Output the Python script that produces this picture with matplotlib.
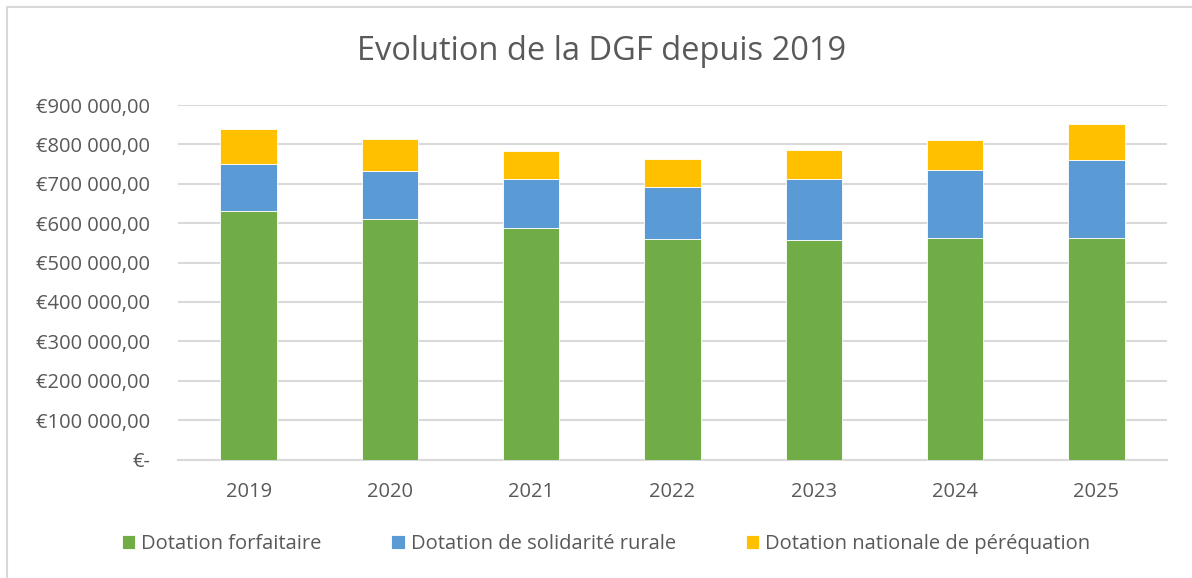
import matplotlib.pyplot as plt
from matplotlib.patches import Rectangle
from matplotlib.ticker import FuncFormatter

# Data
years = ['2019', '2020', '2021', '2022', '2023', '2024', '2025']
forfaitaire = [630000, 610000, 587000, 561000, 557000, 563000, 563000]
solidarite = [121000, 123000, 126000, 132000, 154000, 171000, 198000]
perequation = [87000, 80000, 71000, 69000, 75000, 77000, 90000]

series_names = ['Dotation forfaitaire', 'Dotation de solidarité rurale',
                'Dotation nationale de péréquation']
colors = ['#70AD47', '#5B9BD5', '#FFC000']

plt.rcParams['font.family'] = ['Open Sans', 'DejaVu Sans']
txt = '#595959'

W, H = 1192, 578
fig = plt.figure(figsize=(W / 100, H / 100), dpi=100)

# Outer chart frame
fig.patches.append(Rectangle((7 / W, -0.01), 1.1, 1 - 6.5 / H + 0.01,
                             transform=fig.transFigure, fill=False,
                             edgecolor='#d9d9d9', linewidth=1.5))

ax = fig.add_axes([178 / W, (H - 459.5) / H, (1167 - 178) / W, (459.5 - 105) / H])

x = range(len(years))
bottom2 = [a + b for a, b in zip(forfaitaire, solidarite)]
ax.bar(x, forfaitaire, 0.4, color=colors[0], edgecolor='white', linewidth=0.6,
       label=series_names[0], zorder=3)
ax.bar(x, solidarite, 0.4, bottom=forfaitaire, color=colors[1], edgecolor='white',
       linewidth=0.6, label=series_names[1], zorder=3)
ax.bar(x, perequation, 0.4, bottom=bottom2, color=colors[2], edgecolor='white',
       linewidth=0.6, label=series_names[2], zorder=3)

ax.set_xlim(-0.5, len(years) - 0.5)
ax.set_ylim(0, 900000)
ax.set_yticks(range(0, 900001, 100000))


def euro(v, pos):
    if v == 0:
        return '€-'
    return '€' + f'{int(v):,}'.replace(',', ' ') + ',00'


ax.yaxis.set_major_formatter(FuncFormatter(euro))
ax.set_xticks(list(x))
ax.set_xticklabels(years)
ax.tick_params(axis='both', length=0, labelsize=14.5, colors=txt)
ax.tick_params(axis='y', pad=20)
ax.tick_params(axis='x', pad=16)
ax.grid(axis='y', color='#d9d9d9', linewidth=1.5, zorder=0)
for s in ['top', 'right', 'left']:
    ax.spines[s].set_visible(False)
ax.spines['bottom'].set_color('#d9d9d9')
ax.spines['bottom'].set_linewidth(1.5)

fig.text(602 / W, 1 - 52 / H, 'Evolution de la DGF depuis 2019', ha='center',
         va='center', fontsize=23.5, color=txt)

fig.legend(loc='center', bbox_to_anchor=(606 / W, 1 - 544 / H), ncol=3,
           frameon=False, fontsize=14.5, labelcolor=txt, handlelength=0.65,
           handleheight=0.65, handletextpad=0.3, columnspacing=3.5)

fig.savefig('out.png', dpi=100)
